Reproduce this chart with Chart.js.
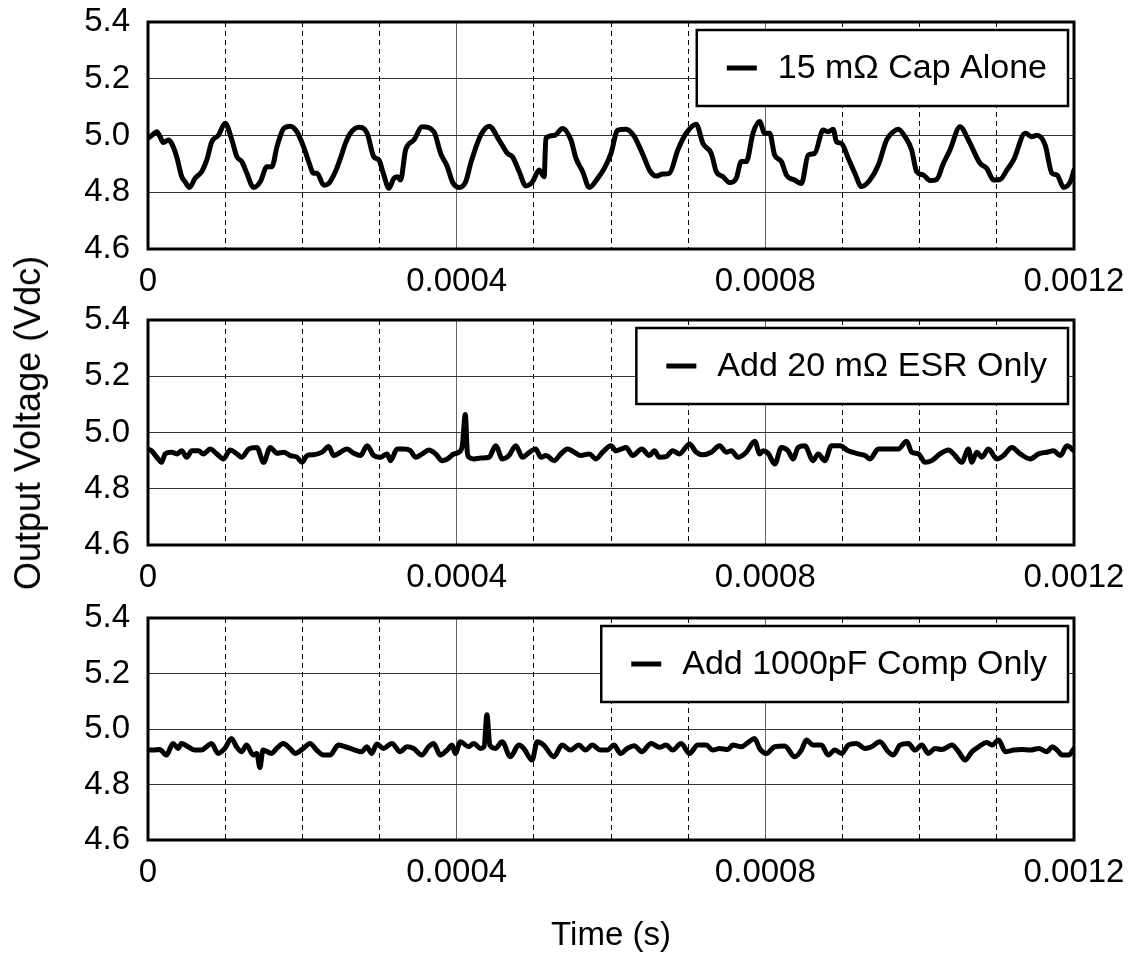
<!DOCTYPE html>
<html>
<head>
<meta charset="utf-8">
<script src="https://cdn.jsdelivr.net/npm/chart.js@4.4.1/dist/chart.umd.min.js"></script>
<style>
  body { margin: 0; background: #fff; }
  #page { position: relative; width: 1132px; height: 954px; overflow: hidden; }
  canvas { position: absolute; left: 0; }
  #ytitle {
    position: absolute; left: 28px; top: 423px;
    transform: translate(-50%, -50%) rotate(-90deg);
    font: 36px "Liberation Sans", Arial, sans-serif;
    white-space: nowrap; color: #000;
  }
</style>
</head>
<body>
<div id="page">
  <canvas id="c1" width="1132" height="300" style="top:0px"></canvas>
  <canvas id="c2" width="1132" height="298" style="top:298px"></canvas>
  <canvas id="c3" width="1132" height="358" style="top:596px"></canvas>
  <div id="ytitle">Output Voltage (Vdc)</div>
</div>
<script>
// Time in microseconds, voltage in Vdc
const capTimes = [0, 4.8, 11.3, 15.6, 19.9, 26.4, 30.7, 37.2, 43.7, 48.1, 53.7, 61, 69.7, 76.2, 82.7, 91.3,
  100, 108.7, 115.2, 121.6, 128.1, 136.8, 145.5, 154.1, 160.6, 167.1, 175.8, 184.4, 193.1, 201.7, 208.2,
  214.7, 219.1, 227.7, 234.2, 242.9, 249.4, 255.8, 262.3, 273.2, 284, 292.6, 299.1, 305.6, 312.1, 318.6,
  323, 327.3, 333.8, 344.6, 355.4, 370.5, 379.2, 387.9, 394.4, 403, 411.7, 418.2, 431.2, 442, 455, 465.8,
  472.3, 481, 489.6, 498.3, 506.9, 513.4, 515.6, 526.4, 537.3, 548.1, 554.5, 563.2, 571.8, 582.7, 591.3,
  600, 608.7, 619.5, 630.3, 636, 643.3, 649.8, 658.4, 667.1, 675.7, 686.6, 697.4, 710.4, 719.1, 729.9,
  736.4, 745.1, 753.6, 762.3, 768.8, 775.3, 784, 792.6, 799.1, 805.6, 812.1, 820.8, 827.3, 838.1, 846.8,
  855.5, 864, 874.9, 881.4, 887.9, 892.2, 898.7, 907.4, 916, 924.7, 935.5, 946.4, 957.1, 965.8, 972.3,
  980.9, 989.6, 996.1, 1004.8, 1013.4, 1022.1, 1030.8, 1039.3, 1052.3, 1063.2, 1078.3, 1087, 1095.7,
  1104.3, 1113, 1121.7, 1136.8, 1145.5, 1152, 1162.7, 1171.4, 1177.9, 1186.6, 1195.2, 1200];
const capVolts = [4.99, 5.0, 5.013, 4.996, 4.975, 4.984, 4.972, 4.925, 4.855, 4.837, 4.817, 4.849, 4.873, 4.914, 4.978, 5.001,
  5.043, 4.984, 4.925, 4.908, 4.867, 4.817, 4.837, 4.89, 4.89, 4.96, 5.025, 5.033, 5.013, 4.96, 4.908,
  4.867, 4.867, 4.825, 4.831, 4.873, 4.92, 4.972, 5.008, 5.029, 5.008, 4.925, 4.914, 4.861, 4.814, 4.849,
  4.855, 4.843, 4.949, 4.984, 5.031, 5.013, 4.937, 4.89, 4.837, 4.817, 4.837, 4.902, 5.001, 5.033, 4.984, 4.937,
  4.925, 4.873, 4.822, 4.837, 4.878, 4.855, 4.99, 5.0, 5.025, 4.984, 4.92, 4.873, 4.817, 4.849, 4.884,
  4.937, 5.019, 5.022, 4.996, 4.965, 4.92, 4.878, 4.857, 4.864, 4.867, 4.949, 5.008, 5.04, 4.972, 4.937,
  4.873, 4.855, 4.834, 4.849, 4.908, 4.908, 5.008, 5.049, 5.008, 5.008, 4.931, 4.908, 4.861, 4.843, 4.831,
  4.931, 4.937, 5.019, 5.013, 5.022, 4.978, 4.972, 4.92, 4.867, 4.82, 4.843, 4.896, 4.984, 5.013, 5.022,
  4.996, 4.949, 4.873, 4.861, 4.841, 4.845, 4.902, 4.949, 5.031, 4.984, 4.902, 4.884, 4.843,
  4.845, 4.878, 4.914, 5.008, 4.996, 5.001, 4.966, 4.867, 4.861, 4.817, 4.837, 4.878];

const esrTimes = [0, 4.8, 11.3, 17.7, 22.1, 30.7, 37.2, 43.7, 50.2, 56.7, 65.4, 71.9, 80.5, 89.2, 97.8, 106.5,
  115.2, 121.6, 130.3, 141.1, 149.8, 158.4, 167.1, 175.8, 184.4, 193.1, 199.6, 206.1, 214.7, 225.5, 234.2,
  240.7, 249.4, 258, 266.7, 275.3, 284, 292.6, 301.3, 309.9, 314.2, 322.9, 331.5, 340.2, 346.7, 355.4, 364,
  372.7, 381.3, 387.8, 396.5, 403, 407.4, 411.2, 413.8, 416, 422.5, 431.2, 442, 450.6, 459.3, 467.9, 476.6,
  485.3, 491.7, 502.5, 509, 515.6, 526.4, 535, 543.7, 552.3, 561, 571.8, 580.5, 589.1, 600, 606.5, 613,
  619.5, 628.1, 640, 649.6, 656.3, 662.7, 671.4, 680, 688.7, 701.7, 710.4, 719.1, 729.9, 740.8, 749.4,
  755.9, 764.6, 775.4, 786.3, 792.8, 797.1, 803.6, 812.3, 820.8, 829.5, 836, 842.5, 851.1, 862, 868.4,
  877.1, 885.8, 896.6, 907.4, 920.4, 929.1, 935.5, 946.4, 959.4, 972.3, 983.1, 989.6, 998.3, 1007, 1015.6,
  1026.4, 1037.3, 1045.9, 1054.5, 1063.2, 1067.5, 1074, 1080.5, 1089.2, 1100, 1108.7, 1119.5, 1130.3,
  1143.3, 1154.1, 1165, 1173.6, 1182.3, 1190.9, 1200];
const esrVolts = [4.941, 4.935, 4.912, 4.894, 4.924, 4.93, 4.924, 4.935, 4.912, 4.935, 4.935, 4.924, 4.941, 4.924, 4.906, 4.938,
  4.924, 4.912, 4.941, 4.947, 4.894, 4.947, 4.926, 4.93, 4.918, 4.912, 4.894, 4.918, 4.921, 4.93, 4.95,
  4.918, 4.93, 4.941, 4.926, 4.918, 4.953, 4.918, 4.912, 4.924, 4.9, 4.941, 4.941, 4.935, 4.912, 4.924, 4.938,
  4.924, 4.9, 4.906, 4.924, 4.93, 4.955, 5.064, 4.93, 4.912, 4.906, 4.909, 4.912, 4.953, 4.906, 4.918, 4.953,
  4.912, 4.924, 4.941, 4.912, 4.918, 4.9, 4.924, 4.941, 4.93, 4.918, 4.924, 4.906, 4.93, 4.953, 4.935, 4.941,
  4.947, 4.918, 4.941, 4.918, 4.935, 4.912, 4.914, 4.935, 4.924, 4.959, 4.93, 4.921, 4.93, 4.953, 4.93,
  4.935, 4.912, 4.93, 4.969, 4.924, 4.935, 4.926, 4.888, 4.947, 4.935, 4.906, 4.947, 4.953, 4.9, 4.924,
  4.9, 4.953, 4.953, 4.935, 4.924, 4.918, 4.906, 4.941, 4.941, 4.941, 4.969, 4.93, 4.924, 4.894, 4.9,
  4.924, 4.938, 4.918, 4.894, 4.941, 4.894, 4.93, 4.912, 4.941, 4.906, 4.918, 4.947, 4.924,
  4.906, 4.924, 4.93, 4.935, 4.918, 4.953, 4.935];

const compTimes = [0, 6.5, 15.2, 23.8, 32.5, 39, 43.3, 51.9, 60.6, 69.3, 75.8, 82.3, 90.9, 99.6, 108.2, 114.7,
  121.2, 127.7, 136.4, 141, 145, 149, 160.2, 166.7, 175.3, 184, 190.5, 201.3, 210, 218.6, 227.3, 235.9,
  246.7, 255.4, 266.2, 277, 283.5, 290, 296.5, 305.2, 316, 326.8, 335.5, 344.2, 355, 363.6, 370.1, 378.8,
  387.5, 394, 398.3, 404.8, 415.6, 422.1, 430.8, 435.5, 439.2, 443, 450.2, 458.9, 469.7, 480.5, 487, 497.8,
  504.3, 512.9, 525.9, 536.7, 547.5, 558.3, 567, 575.7, 586.5, 595.1, 603.8, 612.4, 621.1, 630, 640, 651.9,
  662.7, 671.4, 680, 690.9, 701.7, 712.5, 723.3, 732, 740.6, 751.4, 757.9, 768.8, 777.4, 786.1, 792.6,
  801.3, 812.1, 825.1, 838.1, 846.8, 853.3, 861.9, 872.7, 881.4, 890, 898.7, 907.4, 918.2, 929, 937.7,
  948.5, 959.3, 965.8, 974.5, 985.3, 994, 1002.6, 1011.3, 1020, 1028.7, 1041.7, 1050.4, 1059, 1067.7,
  1076.4, 1087.2, 1093.7, 1102.3, 1111, 1121.8, 1132.6, 1143.5, 1154.3, 1165.1, 1171.6, 1178.1, 1184.6,
  1193.2, 1200];
const compVolts = [4.924, 4.924, 4.926, 4.906, 4.948, 4.93, 4.948, 4.936, 4.924, 4.924, 4.936, 4.948, 4.912, 4.93, 4.966, 4.936,
  4.918, 4.942, 4.906, 4.912, 4.861, 4.924, 4.912, 4.93, 4.948, 4.93, 4.912, 4.93, 4.948, 4.924, 4.906, 4.906,
  4.942, 4.936, 4.926, 4.918, 4.936, 4.912, 4.946, 4.93, 4.948, 4.918, 4.936, 4.93, 4.906, 4.936, 4.948, 4.906,
  4.924, 4.942, 4.912, 4.954, 4.936, 4.948, 4.93, 4.936, 5.051, 4.942, 4.93, 4.954, 4.9, 4.942, 4.93, 4.888,
  4.954, 4.942, 4.9, 4.942, 4.924, 4.942, 4.924, 4.942, 4.924, 4.924, 4.942, 4.912, 4.93, 4.94, 4.918, 4.948,
  4.934, 4.942, 4.924, 4.948, 4.912, 4.942, 4.942, 4.924, 4.93, 4.926, 4.942, 4.936, 4.951, 4.966, 4.93,
  4.912, 4.936, 4.939, 4.9, 4.924, 4.96, 4.942, 4.942, 4.906, 4.924, 4.912, 4.942, 4.948, 4.93, 4.936,
  4.954, 4.918, 4.906, 4.942, 4.948, 4.924, 4.942, 4.912, 4.93, 4.926, 4.942, 4.918, 4.888, 4.918,
  4.936, 4.951, 4.942, 4.96, 4.918, 4.924, 4.926, 4.924, 4.93, 4.918, 4.936, 4.924, 4.906,
  4.906, 4.93];

const voltTicks = [4.6, 4.8, 5.0, 5.2, 5.4];
const timeLabels = ["0", "0.0004", "0.0008", "0.0012"];

const FONT = "'Liberation Sans', Arial, sans-serif";
Chart.defaults.font.family = FONT;
Chart.defaults.font.size = 33;
Chart.defaults.color = "#000";

// Plot frame + boxed legend in the top right corner of the plot
const frameLegend = {
  id: "frameLegend",
  afterDatasetsDraw(chart) {
    const { ctx, chartArea: a } = chart;
    ctx.save();
    ctx.strokeStyle = "#000";
    ctx.lineWidth = 3;
    ctx.strokeRect(a.left, a.top, a.right - a.left, a.bottom - a.top);

    const label = chart.data.datasets[0].label;
    ctx.font = "34px " + FONT;
    const tw = ctx.measureText(label).width;
    const right = a.right - 6, top = a.top + 8, h = 76;
    const textX = right - 21 - tw;
    const left = textX - 81;
    ctx.fillStyle = "#fff";
    ctx.fillRect(left, top, right - left, h);
    ctx.lineWidth = 2.5;
    ctx.strokeRect(left, top, right - left, h);
    ctx.beginPath();
    ctx.lineWidth = 5;
    ctx.moveTo(left + 30, top + h / 2);
    ctx.lineTo(left + 60, top + h / 2);
    ctx.stroke();
    ctx.fillStyle = "#000";
    ctx.textBaseline = "middle";
    ctx.fillText(label, textX, top + h / 2 + 1);
    ctx.restore();
  },
};

function makePanel(id, times, volts, label, xHeight, showTitle) {
  const ctx = document.getElementById(id).getContext("2d");
  return new Chart(ctx, {
    type: "line",
    data: {
      datasets: [
        {
          label: label,
          data: times.map((t, i) => ({ x: t, y: volts[i] })),
          borderColor: "#000",
          borderWidth: 5,
          borderJoinStyle: "round",
          borderCapStyle: "round",
          pointRadius: 0,
          cubicInterpolationMode: "monotone",
          xAxisID: "x",
          yAxisID: "y",
        },
      ],
    },
    options: {
      responsive: false,
      animation: false,
      layout: { padding: { top: 22, right: 58, left: 0, bottom: 0 } },
      plugins: { legend: { display: false }, tooltip: { enabled: false } },
      scales: {
        x: {
          type: "linear",
          position: "bottom",
          min: 0,
          max: 1200,
          afterBuildTicks: (s) => {
            s.ticks = timeLabels.map((_, i) => ({ value: i * 400 }));
          },
          // label offset comes from lineHeight so the side padding stays small
          ticks: {
            padding: 0,
            font: { lineHeight: 2 },
            maxRotation: 0,
            autoSkip: false,
            callback: (v, i) => timeLabels[i],
          },
          grid: { color: "#666", lineWidth: 1, drawTicks: false },
          border: { display: false },
          title: {
            display: showTitle,
            text: "Time (s)",
            font: { size: 33, lineHeight: 1 },
            padding: { top: 0, bottom: 2 },
          },
          afterFit: (s) => {
            s.height = xHeight;
          },
        },
        // minor dashed grid every 0.0001 s
        xg: {
          type: "linear",
          position: "bottom",
          min: 0,
          max: 1200,
          ticks: { display: false, stepSize: 100 },
          grid: {
            color: (c) => (c.tick.value % 400 === 0 ? "rgba(0,0,0,0)" : "#000"),
            lineWidth: 1,
            drawTicks: false,
          },
          border: { display: false, dash: [5, 4] },
          afterFit: (s) => {
            s.height = 0;
          },
        },
        y: {
          min: 4.6,
          max: 5.4,
          afterBuildTicks: (s) => {
            s.ticks = voltTicks.map((v) => ({ value: v }));
          },
          ticks: {
            padding: 18,
            font: { lineHeight: 0.2 },
            callback: (v) => Number(v).toFixed(1),
          },
          grid: { color: "#333", lineWidth: 1, drawTicks: false },
          border: { display: false },
          afterFit: (s) => {
            s.width = 148;
          },
        },
      },
    },
    plugins: [frameLegend],
  });
}

makePanel("c1", capTimes, capVolts, "15 m\u03A9 Cap Alone", 51, false);
makePanel("c2", esrTimes, esrVolts, "Add 20 m\u03A9 ESR Only", 51, false);
makePanel("c3", compTimes, compVolts, "Add 1000pF Comp Only", 114, true);
</script>
</body>
</html>
